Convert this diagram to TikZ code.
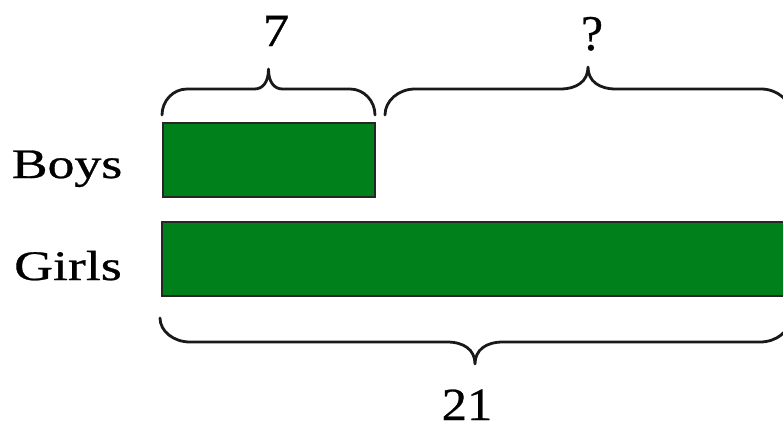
\documentclass[tikz,border=0pt]{standalone}
\usepackage{fontspec}
\setmainfont{Liberation Serif}
\newfontfamily\thickserif{Liberation Serif}[FakeBold=0.6]
\definecolor{bargreen}{RGB}{0,128,26}
\newcommand\drawbrace[7]{% xa, xb, yend, yhoriz, ytip, r, r2
  \draw[bracestyle]
    (#1,#3) .. controls (#1,{#3+0.55*(#4-#3)}) and ({#1+0.45*#6},#4) .. ({#1+#6},#4)
    -- ({(#1+#2)/2-#7},#4)
    .. controls ({(#1+#2)/2-0.4*#7},#4) and ({(#1+#2)/2},{#4+0.35*(#5-#4)}) .. ({(#1+#2)/2},#5)
    .. controls ({(#1+#2)/2},{#4+0.35*(#5-#4)}) and ({(#1+#2)/2+0.4*#7},#4) .. ({(#1+#2)/2+#7},#4)
    -- ({#2-#6},#4)
    .. controls ({#2-0.45*#6},#4) and (#2,{#3+0.55*(#4-#3)}) .. (#2,#3);}
\begin{document}
\begin{tikzpicture}[x=1pt,y=-1pt,
  bracestyle/.style={line width=2.8pt,black!90,line cap=round,line join=round},
  barbox/.style={draw=black!85,line width=2.8pt,fill=bargreen},
  lbl/.style={inner sep=0pt,anchor=base,font=\thickserif\fontsize{42}{48}\selectfont},
  num/.style={inner sep=0pt,anchor=base,font=\thickserif\fontsize{46}{52}\selectfont}]
\useasboundingbox (0,0) rectangle (783,431);
\clip (0,0) rectangle (783,431);
\fill[white] (0,0) rectangle (783,431);
% bars
\draw[barbox] (163,123) rectangle (375,197);
\draw[barbox] (162,222) rectangle (800,296);
% labels
\node[lbl] (boys) at (67,178) {\scalebox{1.28}[1]{Boys}};
\node[lbl] (girls) at (68,280) {\scalebox{1.28}[1]{Girls}};
% braces
\drawbrace{162}{375}{115}{89}{69}{25}{14}
\drawbrace{385}{791}{115}{89}{67}{30}{28}
\drawbrace{160}{790}{318}{342}{364}{30}{28}
% numbers
\node[num] (seven) at (276,46) {\scalebox{1.15}[1]{7}};
\node[num] (quest) at (592,50) {\fontsize{50}{56}\selectfont ?};
\node[num] (total) at (467,420) {\scalebox{1.1}[1]{21}};
\end{tikzpicture}
\end{document}
